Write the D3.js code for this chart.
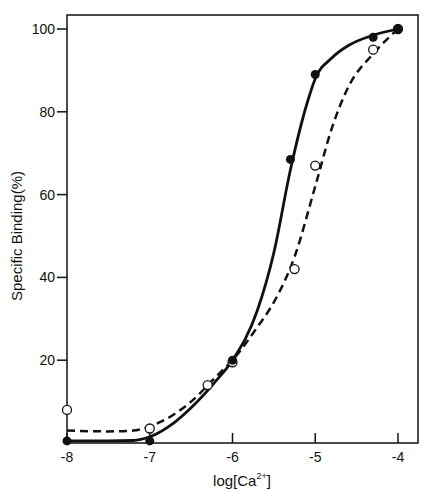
<!DOCTYPE html>
<html><head><meta charset="utf-8">
<script src="https://cdn.jsdelivr.net/npm/d3@7"></script>
<style>body{margin:0;background:#fff}text{font-family:"Liberation Sans",Arial,sans-serif;fill:#111}</style>
</head><body><svg id="chart" width="435" height="492"></svg>
<script>
// -------------- DATA ----------------- //
const filledX = [-8, -7, -6, -5.3, -5, -4.3, -4];
const filledY = [0.5, 0.5, 20, 68.5, 89, 98, 100];
const openX = [-8, -7, -6.3, -6, -5.25, -5, -4.3, -4];
const openY = [8, 3.5, 14, 19.5, 42, 67, 95, 100];
// fitted curves
const solidX = [-8, -7.5, -7.2, -7, -6.7, -6.5, -6.2, -6, -5.7, -5.5, -5.3, -5.1, -5, -4.8, -4.6, -4.3, -4];
const solidY = [0.5, 0.5, 0.6, 1.5, 5, 8.5, 15, 20, 32, 46, 66, 82, 88, 93, 96, 98.5, 100];
const dashX = [-8, -7.5, -7.2, -7, -6.7, -6.5, -6.2, -6, -5.7, -5.5, -5.25, -5, -4.8, -4.6, -4.3, -4];
const dashY = [3, 2.8, 3, 4, 7, 10, 16, 20, 28, 34, 45, 62, 76, 86, 94, 100];
const xTicks = [-8, -7, -6, -5, -4];
const yTicks = [20, 40, 60, 80, 100];

// -------------- SETUP ----------------- //
const svg = d3.select("#chart");
const x = d3.scaleLinear().domain([-8, -4]).range([67, 398]);
const y = d3.scaleLinear().domain([0, 100]).range([443, 29]);
const X0 = 67, X1 = 418, Y0 = 15, Y1 = 443;

svg.append("rect").attr("x", X0).attr("y", Y0).attr("width", X1 - X0).attr("height", Y1 - Y0)
    .attr("fill", "none").attr("stroke", "#111").attr("stroke-width", 1.5);

// x ticks point inward
xTicks.forEach(t => {
    svg.append("line").attr("x1", x(t)).attr("x2", x(t)).attr("y1", Y1).attr("y2", Y1 - 10)
        .attr("stroke", "#111").attr("stroke-width", 1.5);
    svg.append("text").attr("x", x(t)).attr("y", Y1 + 19).attr("text-anchor", "middle")
        .attr("font-size", 14).text(t);
});
// y ticks point outward
yTicks.forEach(t => {
    svg.append("line").attr("x1", X0 - 10).attr("x2", X0).attr("y1", y(t)).attr("y2", y(t))
        .attr("stroke", "#111").attr("stroke-width", 1.5);
    svg.append("text").attr("x", X0 - 12).attr("y", y(t) + 5).attr("text-anchor", "end")
        .attr("font-size", 14).text(t);
});

const xl = svg.append("text").attr("x", 242).attr("y", 486).attr("text-anchor", "middle").attr("font-size", 15);
xl.append("tspan").text("log[Ca");
xl.append("tspan").attr("font-size", 9).attr("dy", -7).text("2+");
xl.append("tspan").attr("dy", 7).text("]");

svg.append("text").attr("transform", "translate(22,236) rotate(-90)").attr("text-anchor", "middle")
    .attr("font-size", 15).text("Specific Binding(%)");

const line = d3.line().x(d => x(d[0])).y(d => y(d[1])).curve(d3.curveMonotoneX);
svg.append("path").attr("d", line(d3.zip(dashX, dashY))).attr("fill", "none")
    .attr("stroke", "#111").attr("stroke-width", 2.5).attr("stroke-dasharray", "8,5");
svg.append("path").attr("d", line(d3.zip(solidX, solidY))).attr("fill", "none")
    .attr("stroke", "#111").attr("stroke-width", 2.8);

openX.forEach((v, i) => {
    svg.append("circle").attr("cx", x(v)).attr("cy", y(openY[i])).attr("r", 4.5)
        .attr("fill", "#fff").attr("stroke", "#111").attr("stroke-width", 1.3);
});
filledX.forEach((v, i) => {
    svg.append("circle").attr("cx", x(v)).attr("cy", y(filledY[i])).attr("r", 4.5).attr("fill", "#111");
});
</script></body></html>
